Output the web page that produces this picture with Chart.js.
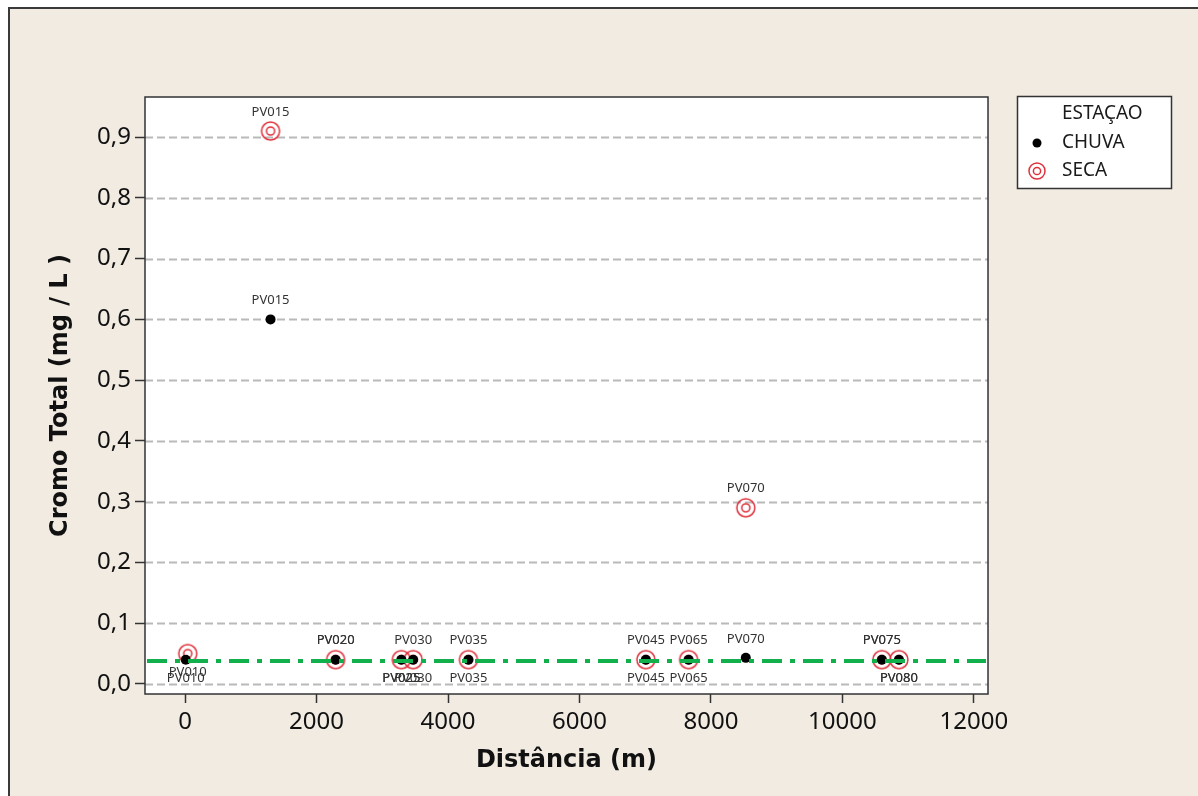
<!DOCTYPE html>
<html lang="pt">
<head>
<meta charset="utf-8">
<title>Cromo Total x Distância</title>
<script src="https://cdn.jsdelivr.net/npm/chart.js@4.4.1/dist/chart.umd.min.js"></script>
<style>
  html, body { margin: 0; padding: 0; background: #fff; overflow: hidden; }
  #wrap { width: 1198px; height: 796px; }
</style>
</head>
<body>
<div id="wrap"><canvas id="grafico" width="1198" height="796"></canvas></div>
<script>
// Dados
const pontos = ['PV010', 'PV015', 'PV020', 'PV025', 'PV030', 'PV035', 'PV045', 'PV065', 'PV070', 'PV075', 'PV080'];
const distChuva = [10, 1300, 2290, 3290, 3470, 4310, 7010, 7660, 8530, 10600, 10860];
const cromoChuva = [0.04, 0.60, 0.04, 0.04, 0.04, 0.04, 0.04, 0.04, 0.043, 0.04, 0.04];
const distSeca = [40, 1300, 2290, 3290, 3470, 4310, 7010, 7660, 8530, 10600, 10860];
const cromoSeca = [0.05, 0.91, 0.04, 0.04, 0.04, 0.04, 0.04, 0.04, 0.29, 0.04, 0.04];
const limiteRef = 0.038;

const ticksX = [0, 2000, 4000, 6000, 8000, 10000, 12000];
const ticksY = [0, 0.1, 0.2, 0.3, 0.4, 0.5, 0.6, 0.7, 0.8, 0.9];

// Rótulo acima (1) ou abaixo (-1) do ponto
const ladoChuva = [-1, 1, 1, -1, -1, -1, -1, -1, 1, 1, -1];
const ladoSeca = [-1, 1, 1, -1, 1, 1, 1, 1, 1, 1, -1];

// Marcador da série SECA (dois círculos vermelhos)
function marcadorSeca(raio) {
  const c = document.createElement('canvas');
  c.width = c.height = raio * 2 + 4;
  const g = c.getContext('2d');
  const m = c.width / 2;
  g.strokeStyle = '#e0303c';
  g.lineWidth = 1.5;
  g.beginPath(); g.arc(m, m, raio, 0, Math.PI * 2); g.stroke();
  g.beginPath(); g.arc(m, m, raio * 0.45, 0, Math.PI * 2); g.stroke();
  return c;
}
const simboloSeca = marcadorSeca(9);
const simboloLegenda = marcadorSeca(8);

// Fundo bege com moldura e área do gráfico branca
const fundo = {
  id: 'fundo',
  beforeDraw(chart) {
    const ctx = chart.ctx;
    const a = chart.chartArea;
    ctx.save();
    ctx.fillStyle = '#ffffff';
    ctx.fillRect(0, 0, chart.width, chart.height);
    ctx.fillStyle = '#f1ebe2';
    ctx.fillRect(8, 7, chart.width, chart.height);
    ctx.strokeStyle = '#3a3a3a';
    ctx.lineWidth = 2;
    ctx.beginPath();
    ctx.moveTo(9, chart.height + 2);
    ctx.lineTo(9, 8);
    ctx.lineTo(chart.width + 2, 8);
    ctx.stroke();
    ctx.fillStyle = '#ffffff';
    ctx.fillRect(a.left, a.top, a.right - a.left, a.bottom - a.top);
    ctx.restore();
  },
  beforeDatasetsDraw(chart) {
    const ctx = chart.ctx;
    const a = chart.chartArea;
    const y = chart.scales.y;
    ctx.save();
    // linhas de grade tracejadas
    ctx.strokeStyle = '#b9b9b9';
    ctx.lineWidth = 2;
    ctx.setLineDash([8, 4]);
    y.ticks.forEach(t => {
      const py = Math.round(y.getPixelForValue(t.value)) + 0.5;
      ctx.beginPath();
      ctx.moveTo(a.left, py);
      ctx.lineTo(a.right, py);
      ctx.stroke();
    });
    ctx.setLineDash([]);
    ctx.strokeStyle = '#333333';
    ctx.lineWidth = 1.5;
    ctx.strokeRect(a.left, a.top, a.right - a.left, a.bottom - a.top);
    ctx.restore();
  }
};

// Linha de referência verde traço-ponto
const referencia = {
  id: 'referencia',
  afterDatasetsDraw(chart) {
    const ctx = chart.ctx;
    const a = chart.chartArea;
    const py = chart.scales.y.getPixelForValue(limiteRef);
    ctx.save();
    ctx.strokeStyle = '#12b04c';
    ctx.lineWidth = 4;
    ctx.setLineDash([20, 8, 5, 8]);
    ctx.beginPath();
    ctx.moveTo(a.left + 2, py);
    ctx.lineTo(a.right - 2, py);
    ctx.stroke();
    ctx.restore();
  }
};

// Rótulos dos pontos
const rotulos = {
  id: 'rotulos',
  afterDatasetsDraw(chart) {
    const ctx = chart.ctx;
    const lados = [ladoChuva, ladoSeca];
    ctx.save();
    ctx.font = '13px "Noto Sans"';
    ctx.fillStyle = '#333333';
    ctx.textAlign = 'center';
    ctx.textBaseline = 'middle';
    chart.data.datasets.forEach((ds, i) => {
      chart.getDatasetMeta(i).data.forEach((p, j) => {
        ctx.fillText(pontos[j], p.x, p.y - lados[i][j] * 19);
      });
    });
    ctx.restore();
  }
};

// Legenda em caixa
const legenda = {
  id: 'legenda',
  afterDraw(chart) {
    const ctx = chart.ctx;
    ctx.save();
    ctx.fillStyle = '#ffffff';
    ctx.fillRect(1017, 96, 154, 92);
    ctx.strokeStyle = '#333333';
    ctx.lineWidth = 1.5;
    ctx.strokeRect(1017.5, 96.5, 154, 92);
    ctx.font = '19px "Noto Sans"';
    ctx.fillStyle = '#1a1a1a';
    ctx.textBaseline = 'middle';
    ctx.fillText('ESTAÇAO', 1062, 114);
    ctx.fillText(chart.data.datasets[0].label, 1062, 143);
    ctx.fillText(chart.data.datasets[1].label, 1062, 171);
    ctx.fillStyle = '#000000';
    ctx.beginPath(); ctx.arc(1037, 143, 4.5, 0, Math.PI * 2); ctx.fill();
    ctx.drawImage(simboloLegenda, 1037 - simboloLegenda.width / 2, 171 - simboloLegenda.height / 2);
    ctx.restore();
  }
};

const fonteTicks = { family: '"Noto Sans"', size: 24 };
const fonteTitulo = { family: '"DejaVu Sans"', size: 24, weight: 'bold' };

new Chart(document.getElementById('grafico'), {
  type: 'scatter',
  data: {
    datasets: [
      {
        label: 'CHUVA',
        data: distChuva.map((d, i) => ({ x: d, y: cromoChuva[i] })),
        pointStyle: 'circle',
        pointRadius: 5,
        pointBackgroundColor: '#000000',
        pointBorderColor: '#000000',
        pointBorderWidth: 0
      },
      {
        label: 'SECA',
        data: distSeca.map((d, i) => ({ x: d, y: cromoSeca[i] })),
        pointStyle: simboloSeca,
        pointRadius: 10
      }
    ]
  },
  options: {
    responsive: false,
    animation: false,
    events: [],
    layout: { padding: { top: 97, right: 210, left: 0, bottom: 0 } },
    plugins: { legend: { display: false }, tooltip: { enabled: false } },
    scales: {
      x: {
        type: 'linear',
        min: -610,
        max: 12215,
        afterBuildTicks: s => { s.ticks = ticksX.map(v => ({ value: v })); },
        afterFit: s => { s.height = 102; s.paddingLeft = 0; s.paddingRight = 0; },
        grid: { drawOnChartArea: false, drawTicks: true, tickLength: 9, tickColor: '#333333', tickWidth: 1.5 },
        border: { display: false },
        ticks: { color: '#111111', font: fonteTicks, padding: 5, maxRotation: 0, autoSkip: false, callback: v => String(v) },
        title: { display: true, text: 'Distância (m)', color: '#111111', font: fonteTitulo, padding: { top: 0, bottom: 21 } }
      },
      y: {
        type: 'linear',
        min: -0.0165,
        max: 0.966,
        afterBuildTicks: s => { s.ticks = ticksY.map(v => ({ value: v })); },
        afterFit: s => { s.width = 145; s.paddingTop = 0; s.paddingBottom = 0; },
        grid: { drawOnChartArea: false, drawTicks: true, tickLength: 10, tickColor: '#333333', tickWidth: 1.5 },
        border: { display: false },
        ticks: { color: '#111111', font: fonteTicks, padding: 4, autoSkip: false, callback: v => v.toFixed(1).replace('.', ',') },
        title: { display: true, text: 'Cromo Total (mg / L )', color: '#111111', font: fonteTitulo, padding: { top: 46, bottom: 0 } }
      }
    }
  },
  plugins: [fundo, referencia, rotulos, legenda]
});
</script>
</body>
</html>
